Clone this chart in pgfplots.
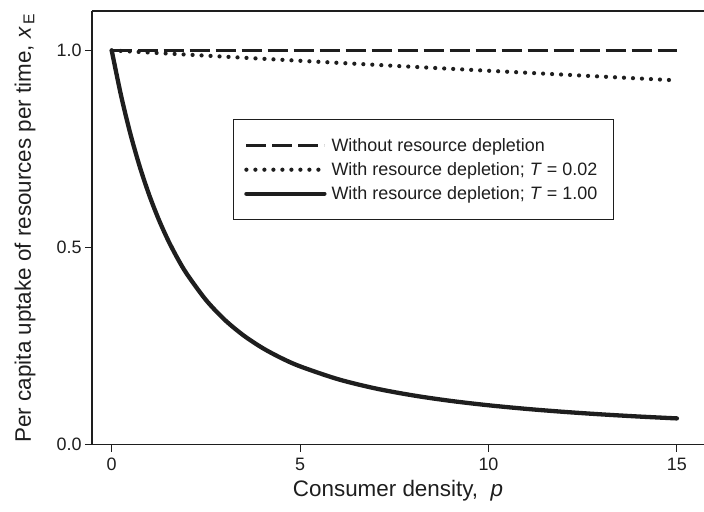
\documentclass[border=0pt]{standalone}
\usepackage{pgfplots}
\pgfplotsset{compat=1.18}
\usepackage{fontspec}
\setmainfont{Liberation Sans}
\definecolor{ink}{RGB}{30,30,30}
\begin{document}
\begin{tikzpicture}
\begin{axis}[
  at={(0,0)}, anchor=south west,
  scale only axis, width=612bp, height=433.7bp,
  xmin=-0.523, xmax=15.72, ymin=0, ymax=1.1,
  axis x line*=bottom, axis y line*=left,
  axis line style={ink, line width=1.3bp},
  x axis line style={shorten <=-6.5bp},
  tick align=outside, major tick length=7bp,
  tick style={ink, line width=1.1bp},
  xtick={0,5,10,15}, ytick={0,0.5,1},
  /pgf/number format/assume math mode=true,
  yticklabel style={/pgf/number format/.cd, fixed, fixed zerofill, precision=1},
  xticklabel style={yshift=-3bp},
  ticklabel style={font=\fontsize{18}{21}\selectfont, text=ink},
  xlabel={Consumer density,\ \ \textit{p}},
  ylabel={Per capita uptake of resources per time,\ \textit{x}\textsubscript{\,E}},
  label style={font=\fontsize{22.5}{26}\selectfont, text=ink},
  xlabel style={at={(axis description cs:0.5,-0.106)}, anchor=center},
  ylabel style={at={(axis description cs:-0.1095,0.5)}, anchor=center},
  clip=false,
  legend style={at={(rel axis cs:0.230,0.751)}, anchor=north west, draw=ink, line width=1bp,
    font=\fontsize{18}{21}\selectfont, text=ink, inner xsep=11bp, inner ysep=17bp,
    row sep=5.5bp, nodes={inner xsep=5bp}},
  legend cell align=left,
  legend image code/.code={\draw[#1] (0bp,0bp) -- (78bp,0bp);},
]
\addplot[ink, line width=3bp, dash pattern=on 20bp off 6bp] coordinates {(0,1) (15,1)};
\addlegendentry{Without resource depletion}
\addplot[ink, line width=4.2bp, line cap=round, dash pattern=on 0bp off 9bp] coordinates {
(0,1) (2.5,0.9867) (5,0.9737) (7.5,0.9609) (10,0.9484) (12.5,0.9361) (15,0.924)};
\addlegendentry{With resource depletion; \textit{T} = 0.02}
\addplot[ink, line width=4.3bp, smooth, line join=round, line cap=round] coordinates {
(0,1) (0.25,0.8848) (0.5,0.7869) (0.75,0.7035) (1,0.6321) (1.25,0.5708) (1.5,0.5179)
(1.75,0.4721) (2,0.4323) (2.5,0.3672) (3,0.3167) (3.5,0.2771) (4,0.2454) (4.5,0.2198)
(5,0.1987) (6,0.1663) (7,0.1427) (8,0.1250) (9,0.1111) (10,0.1000) (11,0.0909)
(12,0.0833) (13,0.0769) (14,0.0714) (15,0.0667)};
\addlegendentry{With resource depletion; \textit{T} = 1.00}
\draw[ink, line width=1.3bp] (rel axis cs:0,1) -- (rel axis cs:1,1);
\end{axis}
\pgfresetboundingbox
\useasboundingbox (-92bp,-67.3bp) rectangle (612bp,444.7bp);
\end{tikzpicture}
\end{document}
